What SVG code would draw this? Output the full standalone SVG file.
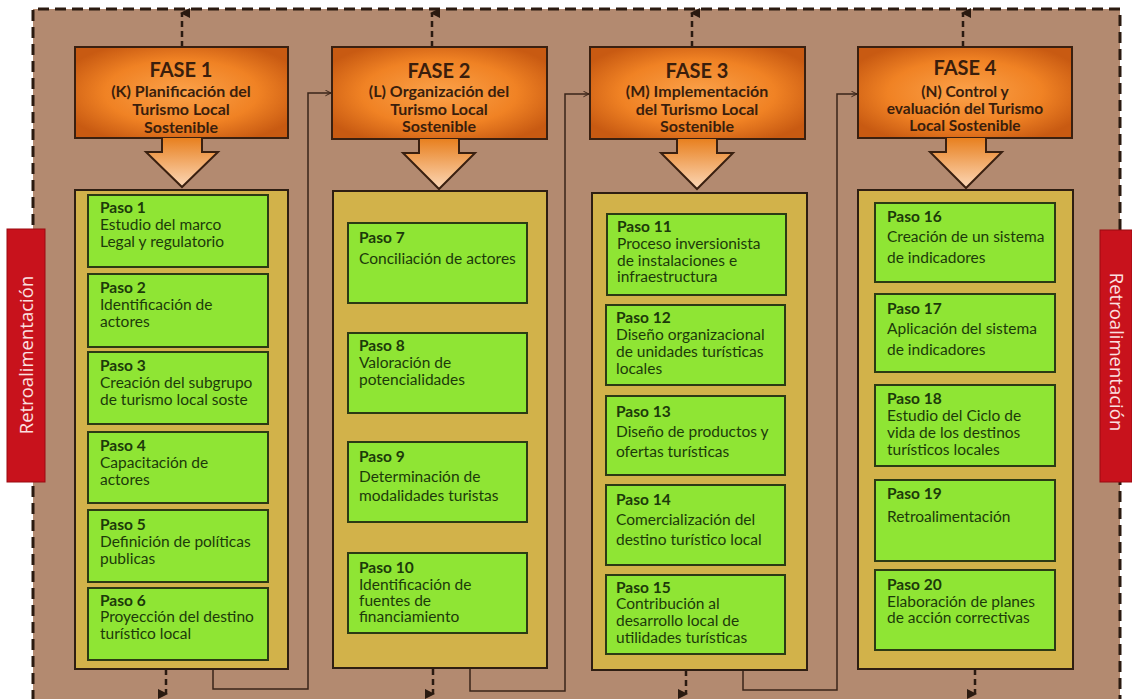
<svg xmlns="http://www.w3.org/2000/svg" width="1132" height="699" viewBox="0 0 1132 699">
<defs>
<radialGradient id="og" cx="50%" cy="50%" r="60%">
<stop offset="0" stop-color="#FBA24A"/>
<stop offset="0.6" stop-color="#F08224"/>
<stop offset="1" stop-color="#C85A12"/>
</radialGradient>
<linearGradient id="ag" x1="0" y1="0" x2="0" y2="1">
<stop offset="0" stop-color="#E8801F"/>
<stop offset="1" stop-color="#FCD8B8"/>
</linearGradient>
<marker id="up" viewBox="0 0 10 10" refX="5" refY="2" markerWidth="4" markerHeight="4" orient="auto-start-reverse" markerUnits="strokeWidth">
<path d="M0,10 L5,0 L10,10 Z" fill="#2a1a10"/>
</marker>
<marker id="chev" viewBox="0 0 10 10" refX="9" refY="5" markerWidth="7" markerHeight="7" orient="auto" markerUnits="userSpaceOnUse">
<path d="M1,1 L9,5 L1,9" fill="none" stroke="#3a2418" stroke-width="1.4"/>
</marker>
</defs>
<style>
.bg{fill:#B38A70}
.border{fill:none;stroke:#2a1a10;stroke-width:3;stroke-dasharray:11 6}
.dash{fill:none;stroke:#2a1a10;stroke-width:2.5;stroke-dasharray:6 4}
.conn{fill:none;stroke:#3a2418;stroke-width:1.5}
.hdr{fill:url(#og);stroke:#3a2010;stroke-width:2}
.arr{fill:url(#ag);stroke:#3a2010;stroke-width:2}
.cont{fill:#D2B24A;stroke:#2e1e12;stroke-width:2}
.step{fill:#8FE534;stroke:#2c3a14;stroke-width:2}
.ht{font-family:Lato,"Liberation Sans",sans-serif;font-weight:bold;fill:#3a1e0c;text-anchor:middle;font-size:16px}
.h1{font-size:20px}
.h3{font-size:15.5px}
.st{font-family:Lato,"Liberation Sans",sans-serif;font-size:15.5px;fill:#1c3a0a}
.sb{font-weight:bold}
.red{fill:#C8121C;stroke:#9a0a10;stroke-width:1}
.rt{font-family:"Open Sans","Liberation Sans",sans-serif;font-size:18.5px;fill:#FBE0E0;text-anchor:middle}
</style>
<rect x="0" y="0" width="1132" height="699" fill="#ffffff"/>
<rect class="bg" x="33" y="9" width="1087" height="692"/>
<path class="border" d="M33,701 V9 H1120 V701"/>

<g id="connectors">
<path class="dash" d="M182,47 V13" marker-end="url(#up)"/>
<path class="dash" d="M432,47 V13" marker-end="url(#up)"/>
<path class="dash" d="M692,47 V13" marker-end="url(#up)"/>
<path class="dash" d="M963,47 V13" marker-end="url(#up)"/>
<path class="dash" d="M166,669 V694" marker-end="url(#up)"/>
<path class="dash" d="M433,669 V694" marker-end="url(#up)"/>
<path class="dash" d="M686,670 V694" marker-end="url(#up)"/>
<path class="dash" d="M975,669 V694" marker-end="url(#up)"/>
<path class="conn" d="M213,669 V689 H308 V93 H331" marker-end="url(#chev)"/>
<path class="conn" d="M470,668 V691 H565 V94 H589" marker-end="url(#chev)"/>
<path class="conn" d="M743,669 V690 H837 V94 H857" marker-end="url(#chev)"/>
</g>

<g id="retro-left">
<rect class="red" x="7" y="229" width="38" height="253"/>
<text class="rt" transform="translate(33,355) rotate(-90)">Retroalimentación</text>
</g>
<g id="retro-right">
<rect class="red" x="1100" y="230" width="32" height="252"/>
<text class="rt" transform="translate(1110,352) rotate(90)">Retroalimentación</text>
</g>

<g id="fase1">
<rect class="hdr" x="75" y="47" width="213" height="91"/>
<text class="ht" x="181"><tspan class="h1" x="181" y="77">FASE 1</tspan><tspan x="181" y="97">(K) Planificación del</tspan><tspan x="181" y="115">Turismo Local</tspan><tspan x="181" y="133">Sostenible</tspan></text>
<path class="arr" d="M162,138 V152 H146 L182,187 L218,152 H202 V138"/>
</g>
<g id="fase2">
<rect class="hdr" x="332" y="47" width="215" height="92"/>
<text class="ht" x="439"><tspan class="h1" x="439" y="78">FASE 2</tspan><tspan x="439" y="97">(L) Organización  del</tspan><tspan x="439" y="114.5">Turismo Local</tspan><tspan x="439" y="132">Sostenible</tspan></text>
<path class="arr" d="M419,139 V153 H403 L439,189 L475,153 H459 V139"/>
</g>
<g id="fase3">
<rect class="hdr" x="590" y="47" width="215" height="92"/>
<text class="ht" x="697"><tspan class="h1" x="697" y="78">FASE 3</tspan><tspan x="697" y="97">(M) Implementación</tspan><tspan x="697" y="114.5">del Turismo Local</tspan><tspan x="697" y="132">Sostenible</tspan></text>
<path class="arr" d="M677,139 V153 H661 L697,189 L733,153 H717 V139"/>
</g>
<g id="fase4">
<rect class="hdr" x="858" y="47" width="214" height="91"/>
<text class="ht h3" x="965"><tspan class="h1" x="965" y="75">FASE 4</tspan><tspan x="965" y="97">(N) Control y</tspan><tspan x="965" y="114">evaluación del Turismo</tspan><tspan x="965" y="131">Local Sostenible</tspan></text>
<path class="arr" d="M946,138 V152 H930 L966,188 L1002,152 H986 V138"/>
</g>

<g id="col1">
<rect class="cont" x="75" y="190" width="213" height="479"/>
<g id="paso1"><rect class="step" x="88" y="195" width="180" height="72"/>
<text class="st" x="100"><tspan class="sb" y="213">Paso 1</tspan><tspan x="100" y="230">Estudio del marco</tspan><tspan x="100" y="247">Legal y regulatorio</tspan></text></g>
<g id="paso2"><rect class="step" x="88" y="274" width="180" height="73"/>
<text class="st" x="100"><tspan class="sb" y="293">Paso 2</tspan><tspan x="100" y="310">Identificación de</tspan><tspan x="100" y="327">actores</tspan></text></g>
<g id="paso3"><rect class="step" x="88" y="352" width="180" height="72"/>
<text class="st" x="100"><tspan class="sb" y="371">Paso 3</tspan><tspan x="100" y="388">Creación del subgrupo</tspan><tspan x="100" y="405">de turismo local soste</tspan></text></g>
<g id="paso4"><rect class="step" x="88" y="432" width="180" height="71"/>
<text class="st" x="100"><tspan class="sb" y="451">Paso 4</tspan><tspan x="100" y="468">Capacitación de</tspan><tspan x="100" y="485">actores</tspan></text></g>
<g id="paso5"><rect class="step" x="88" y="510" width="180" height="72"/>
<text class="st" x="100"><tspan class="sb" y="530">Paso 5</tspan><tspan x="100" y="547">Definición de políticas</tspan><tspan x="100" y="564">publicas</tspan></text></g>
<g id="paso6"><rect class="step" x="88" y="588" width="180" height="72"/>
<text class="st" x="100"><tspan class="sb" y="606">Paso 6</tspan><tspan x="100" y="622">Proyección del destino</tspan><tspan x="100" y="639">turístico local</tspan></text></g>
</g>

<g id="col2">
<rect class="cont" x="333" y="191" width="214" height="477"/>
<g id="paso7"><rect class="step" x="348" y="223" width="179" height="80"/>
<text class="st" x="359"><tspan class="sb" y="243">Paso 7</tspan><tspan x="359" y="264">Conciliación de actores</tspan></text></g>
<g id="paso8"><rect class="step" x="348" y="333" width="179" height="80"/>
<text class="st" x="359"><tspan class="sb" y="351">Paso 8</tspan><tspan x="359" y="368">Valoración de</tspan><tspan x="359" y="385">potencialidades</tspan></text></g>
<g id="paso9"><rect class="step" x="348" y="442" width="179" height="80"/>
<text class="st" x="359"><tspan class="sb" y="462">Paso 9</tspan><tspan x="359" y="482">Determinación de</tspan><tspan x="359" y="501">modalidades turistas</tspan></text></g>
<g id="paso10"><rect class="step" x="348" y="553" width="179" height="80"/>
<text class="st" x="359"><tspan class="sb" y="573">Paso 10</tspan><tspan x="359" y="590">Identificación de</tspan><tspan x="359" y="606">fuentes de</tspan><tspan x="359" y="622">financiamiento</tspan></text></g>
</g>

<g id="col3">
<rect class="cont" x="592" y="193" width="215" height="477"/>
<g id="paso11"><rect class="step" x="607" y="214" width="179" height="81"/>
<text class="st" x="617"><tspan class="sb" y="232">Paso 11</tspan><tspan x="617" y="249">Proceso inversionista</tspan><tspan x="617" y="266">de instalaciones e</tspan><tspan x="617" y="282">infraestructura</tspan></text></g>
<g id="paso12"><rect class="step" x="606" y="305" width="179" height="80"/>
<text class="st" x="616"><tspan class="sb" y="323">Paso 12</tspan><tspan x="616" y="340">Diseño organizacional</tspan><tspan x="616" y="357">de unidades turísticas</tspan><tspan x="616" y="374">locales</tspan></text></g>
<g id="paso13"><rect class="step" x="606" y="396" width="179" height="79"/>
<text class="st" x="616"><tspan class="sb" y="417">Paso 13</tspan><tspan x="616" y="437">Diseño de productos y</tspan><tspan x="616" y="457">ofertas turísticas</tspan></text></g>
<g id="paso14"><rect class="step" x="606" y="485" width="179" height="80"/>
<text class="st" x="616"><tspan class="sb" y="505">Paso 14</tspan><tspan x="616" y="525">Comercialización del</tspan><tspan x="616" y="545">destino turístico local</tspan></text></g>
<g id="paso15"><rect class="step" x="606" y="575" width="179" height="79"/>
<text class="st" x="616"><tspan class="sb" y="593">Paso 15</tspan><tspan x="616" y="609">Contribución al</tspan><tspan x="616" y="626">desarrollo local de</tspan><tspan x="616" y="643">utilidades turísticas</tspan></text></g>
</g>

<g id="col4">
<rect class="cont" x="858" y="190" width="215" height="479"/>
<g id="paso16"><rect class="step" x="875" y="203" width="180" height="79"/>
<text class="st" x="887"><tspan class="sb" y="222">Paso 16</tspan><tspan x="887" y="242">Creación de un sistema</tspan><tspan x="887" y="263">de indicadores</tspan></text></g>
<g id="paso17"><rect class="step" x="875" y="294" width="180" height="78"/>
<text class="st" x="887"><tspan class="sb" y="314">Paso 17</tspan><tspan x="887" y="334">Aplicación del sistema</tspan><tspan x="887" y="355">de indicadores</tspan></text></g>
<g id="paso18"><rect class="step" x="875" y="385" width="180" height="81"/>
<text class="st" x="887"><tspan class="sb" y="404">Paso 18</tspan><tspan x="887" y="421">Estudio del Ciclo de</tspan><tspan x="887" y="438">vida de los destinos</tspan><tspan x="887" y="455">turísticos locales</tspan></text></g>
<g id="paso19"><rect class="step" x="875" y="480" width="180" height="81"/>
<text class="st" x="887"><tspan class="sb" y="499">Paso 19</tspan><tspan x="887" y="522">Retroalimentación</tspan></text></g>
<g id="paso20"><rect class="step" x="875" y="570" width="180" height="80"/>
<text class="st" x="887"><tspan class="sb" y="590">Paso 20</tspan><tspan x="887" y="607">Elaboración de planes</tspan><tspan x="887" y="623">de acción correctivas</tspan></text></g>
</g>
</svg>
